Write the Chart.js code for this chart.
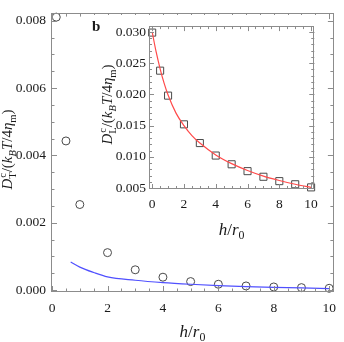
<!DOCTYPE html>
<html>
<head>
<meta charset="utf-8">
<script src="https://cdn.jsdelivr.net/npm/chart.js@4.4.1/dist/chart.umd.min.js"></script>
<style>
    body { margin: 0; background: #fff; }
    #wrap { position: relative; width: 344px; height: 342px; }
    #mainChart { position: absolute; left: 0; top: 0; }
    #insetChart { position: absolute; left: 85px; top: 15px; }
</style>
</head>
<body>
<div id="wrap">
    <canvas id="mainChart" width="344" height="342"></canvas>
    <canvas id="insetChart" width="240" height="225"></canvas>
</div>
<script>
// --- data ---

// main panel: transverse coefficient (circles) and theory (blue line)
const hMain = [0.15, 0.5, 1, 2, 3, 4, 5, 6, 7, 8, 9, 10];
const dtMain = [0.00811, 0.00443, 0.00254, 0.00111, 0.00060, 0.00038, 0.00025, 0.00017, 0.00012, 0.00009, 0.00007, 0.00005];
const hBlue = [0.67, 1, 1.5, 2, 3, 4, 5, 6, 7, 8, 9, 10];
const dtBlue = [0.00083, 0.00068, 0.00052, 0.00039, 0.00029, 0.00022, 0.00017, 0.00013, 0.00010, 0.00008, 0.00006, 0.00004];

// inset (b): longitudinal coefficient (squares) and fit (red line)
const hInset = [0, 0.5, 1, 2, 3, 4, 5, 6, 7, 8, 9, 10];
const dlInset = [0.0299, 0.0238, 0.0198, 0.0152, 0.0122, 0.0102, 0.0088, 0.0077, 0.0068, 0.0061, 0.0056, 0.0051];
const hRed = [0, 0.25, 0.5, 0.75, 1, 1.5, 2, 2.5, 3, 4, 5, 6, 7, 8, 9, 10];
const dlRed = [0.0300, 0.0268, 0.0241, 0.0218, 0.0199, 0.0170, 0.0150, 0.0134, 0.0122, 0.0103, 0.0089, 0.0078, 0.0069, 0.0062, 0.0056, 0.0051];

const xTicksMain = [0, 2, 4, 6, 8, 10];
const yTicksMain = [0.000, 0.002, 0.004, 0.006, 0.008];
const yTicksInset = [0.005, 0.010, 0.015, 0.020, 0.025, 0.030];

const SERIF = '"Liberation Serif", "DejaVu Serif", serif';
const FRAME = '#8c8c8c';
const INK = '#1a1a1a';

const toXY = (xs, ys) => xs.map((x, i) => ({ x: x, y: ys[i] }));

// ----------------------------------------------------
// text with sub/superscripts
// ----------------------------------------------------
const I = t => ({ t: t, it: true });
const R = t => ({ t: t });
const SUP = t => ({ t: t, sm: true, dy: -0.42, keep: true });
const SUB = (t, it) => ({ t: t, sm: true, dy: 0.25, it: !!it });

function fontOf(p, size) {
    return (p.it ? 'italic ' : '') + (size * (p.sm ? 0.7 : 1)).toFixed(1) + 'px ' + SERIF;
}

function drawMath(ctx, parts, cx, y, size) {
    let w = 0;
    parts.forEach(p => { ctx.font = fontOf(p, size); if (!p.keep) w += ctx.measureText(p.t).width; });
    let x = cx - w / 2;
    ctx.textAlign = 'left';
    ctx.textBaseline = 'alphabetic';
    parts.forEach(p => {
        ctx.font = fontOf(p, size);
        ctx.fillText(p.t, x + (p.keep ? 1 : 0), y + (p.dy || 0) * size);
        if (!p.keep) x += ctx.measureText(p.t).width;
    });
}

const labelDT = [I('D'), SUP('c'), SUB('T'), R('/('), I('k'), SUB('B', true), I('T'), R('/4'), I('η'), SUB('m'), R(')')];
const labelDL = [I('D'), SUP('c'), SUB('L'), R('/('), I('k'), SUB('B', true), I('T'), R('/4'), I('η'), SUB('m'), R(')')];
const labelH = [I('h'), R('/'), I('r'), SUB('0')];

// ----------------------------------------------------
// frame with inward ticks on all four sides + titles
// ----------------------------------------------------
function framePlugin(cfg) {
    return {
        id: 'frame',
        beforeDraw(chart) {
            const ctx = chart.ctx;
            ctx.save();
            ctx.fillStyle = '#fff';
            ctx.fillRect(0, 0, chart.width, chart.height);
            ctx.restore();
        },
        afterDraw(chart) {
            const { ctx, chartArea: a } = chart;
            const sx = chart.scales.x, sy = chart.scales.y;
            ctx.save();
            ctx.strokeStyle = FRAME;
            ctx.lineWidth = 1;
            ctx.strokeRect(Math.round(a.left) + 0.5, Math.round(a.top) + 0.5,
                Math.round(a.right - a.left) - 1, Math.round(a.bottom - a.top) - 1);

            const line = (x1, y1, x2, y2) => { ctx.beginPath(); ctx.moveTo(x1, y1); ctx.lineTo(x2, y2); ctx.stroke(); };
            const marks = (scale, step, len) => {
                const i0 = Math.ceil(scale.min / step - 1e-6), i1 = Math.floor(scale.max / step + 1e-6);
                for (let i = i0; i <= i1; i++) {
                    const p = Math.round(scale.getPixelForValue(i * step)) + 0.5;
                    if (scale.axis === 'x') {
                        line(p, a.bottom, p, a.bottom - len);
                        line(p, a.top, p, a.top + len);
                    } else {
                        line(a.left, p, a.left + len, p);
                        line(a.right, p, a.right - len, p);
                    }
                }
            };
            marks(sx, cfg.xMinor, cfg.minorLen);
            marks(sx, cfg.xMajor, cfg.majorLen);
            marks(sy, cfg.yMinor, cfg.minorLen);
            marks(sy, cfg.yMajor, cfg.majorLen);

            ctx.fillStyle = INK;
            // x title
            drawMath(ctx, labelH, (a.left + a.right) / 2, cfg.xTitleY, cfg.titleSize);
            // y title, rotated
            ctx.save();
            ctx.translate(cfg.yTitleX, (a.top + a.bottom) / 2 + cfg.yTitleShift);
            ctx.rotate(-Math.PI / 2);
            drawMath(ctx, cfg.yLabel, 0, 0, cfg.yTitleSize);
            ctx.restore();

            if (cfg.panel) {
                ctx.font = 'bold 15px ' + SERIF;
                ctx.textAlign = 'left';
                ctx.textBaseline = 'alphabetic';
                ctx.fillText(cfg.panel, cfg.panelX, cfg.panelY);
            }
            ctx.restore();
        }
    };
}

function axisX(min, max, pad) {
    return {
        type: 'linear', min: min, max: max,
        afterBuildTicks: s => { s.ticks = xTicksMain.map(v => ({ value: v })); },
        ticks: { font: { family: SERIF, size: 13.5 }, color: INK, padding: pad, maxRotation: 0, callback: v => String(v) },
        grid: { display: false, drawTicks: false },
        border: { display: false }
    };
}

function axisY(min, max, tickList, pad) {
    return {
        type: 'linear', min: min, max: max,
        afterBuildTicks: s => { s.ticks = tickList.map(v => ({ value: v })); },
        ticks: { font: { family: SERIF, size: 13.5 }, color: INK, padding: pad, callback: v => v.toFixed(3) },
        grid: { display: false, drawTicks: false },
        border: { display: false }
    };
}

const common = {
    responsive: false,
    animation: false,
    devicePixelRatio: 1,
    events: [],
    plugins: { legend: { display: false }, tooltip: { enabled: false } }
};

// ----------------------------------------------------
// main panel
// ----------------------------------------------------
const mainX = axisX(-0.04, 10.17, 8);
mainX.afterFit = s => { s.height = 50; };
const mainY = axisY(-0.00006, 0.00823, yTicksMain, 5);
mainY.afterFit = s => { s.width = 51; };

new Chart(document.getElementById('mainChart'), {
    type: 'scatter',
    data: {
        datasets: [
            {
                data: toXY(hBlue, dtBlue), showLine: true, borderColor: '#5050ff', borderWidth: 1.2,
                pointRadius: 0, cubicInterpolationMode: 'monotone', fill: false
            },
            {
                data: toXY(hMain, dtMain), showLine: false, pointStyle: 'circle', pointRadius: 4,
                borderColor: '#4a4a4a', borderWidth: 1, backgroundColor: 'rgba(0,0,0,0)', clip: false
            }
        ]
    },
    options: Object.assign({}, common, {
        layout: { padding: { top: 2, right: 2, left: 0, bottom: 0 } },
        scales: { x: mainX, y: mainY }
    }),
    plugins: [framePlugin({
        xMajor: 2, xMinor: 0.5, yMajor: 0.002, yMinor: 0.0005, majorLen: 6, minorLen: 3.5,
        xTitleY: 337, titleSize: 17, yTitleX: 12, yTitleShift: -3, yTitleSize: 15, yLabel: labelDT
    })]
});

// ----------------------------------------------------
// inset panel (b)
// ----------------------------------------------------
const insetX = axisX(-0.2, 10.2, 7);
insetX.afterFit = s => { s.height = 51; };
const insetY = axisY(0.00484, 0.03094, yTicksInset, 3);
insetY.afterFit = s => { s.width = 64; };

new Chart(document.getElementById('insetChart'), {
    type: 'scatter',
    data: {
        datasets: [
            {
                data: toXY(hRed, dlRed), showLine: true, borderColor: '#ff4a4a', borderWidth: 1.2,
                pointRadius: 0, cubicInterpolationMode: 'monotone', fill: false
            },
            {
                data: toXY(hInset, dlInset), showLine: false, pointStyle: 'rect', pointRadius: 5,
                borderColor: '#4a4a4a', borderWidth: 1, backgroundColor: 'rgba(0,0,0,0)', clip: false
            }
        ]
    },
    options: Object.assign({}, common, {
        layout: { padding: { top: 7, right: 8, left: 0, bottom: 0 } },
        scales: { x: insetX, y: insetY }
    }),
    plugins: [framePlugin({
        xMajor: 2, xMinor: 0.5, yMajor: 0.005, yMinor: 0.001, majorLen: 5, minorLen: 3,
        xTitleY: 220, titleSize: 17, yTitleX: 27, yTitleShift: -3, yTitleSize: 15, yLabel: labelDL,
        panel: 'b', panelX: 7, panelY: 16
    })]
});
</script>
</body>
</html>
